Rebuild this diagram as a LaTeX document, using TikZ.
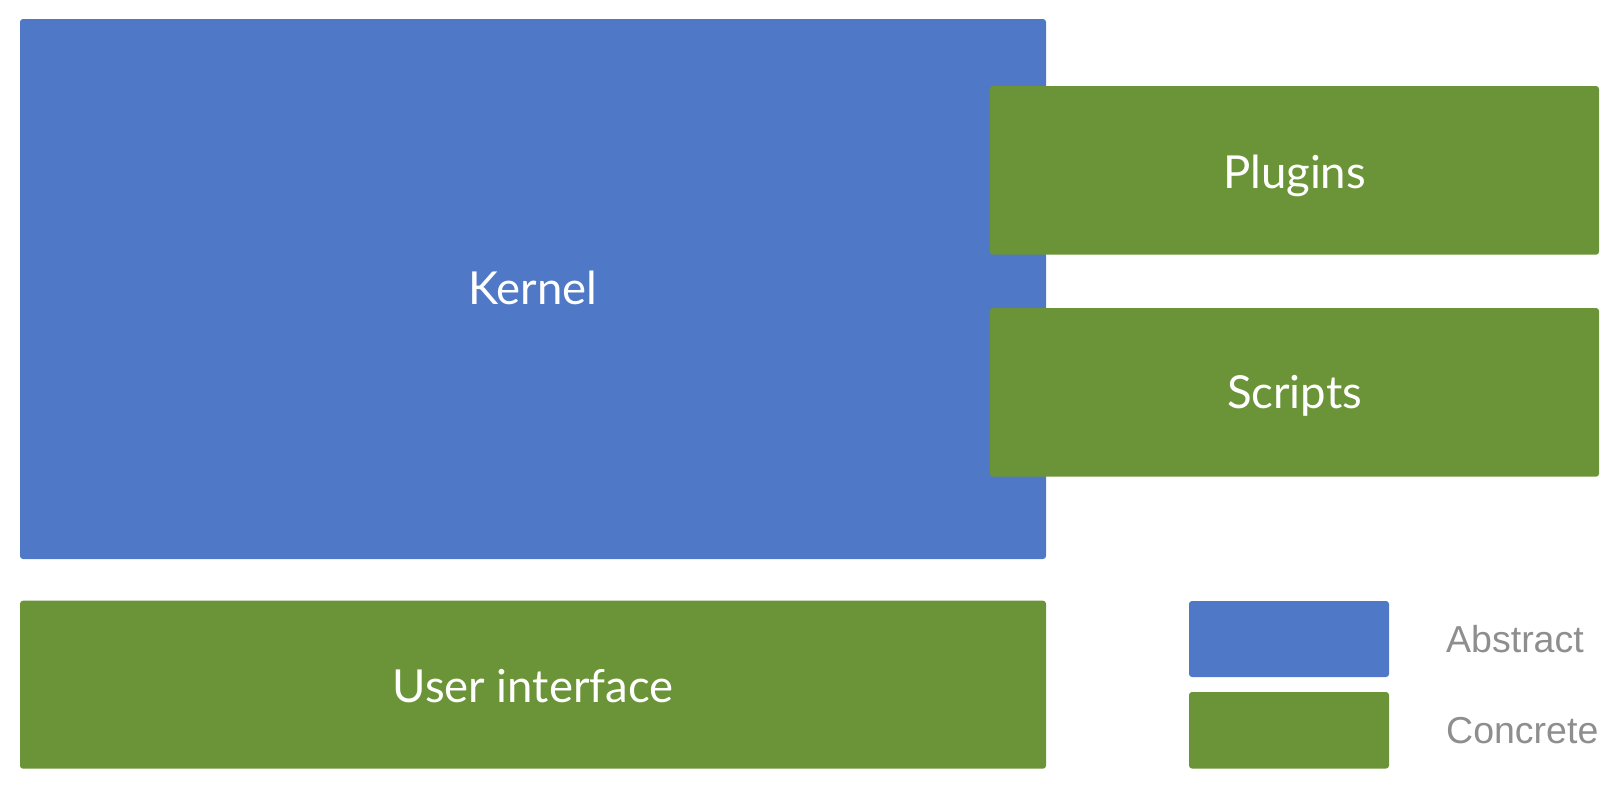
\documentclass[tikz,border=0pt]{standalone}
\usepackage{fontspec}
\setmainfont{Lato}
\newfontfamily\legendfont{Liberation Sans}
\definecolor{absblue}{RGB}{79,120,198}
\definecolor{congreen}{RGB}{107,148,56}
\definecolor{leggray}{RGB}{142,142,142}
\begin{document}
\begin{tikzpicture}[x=1pt,y=-1pt,
  blockbox/.style={fill=#1, draw=none, rounded corners=3pt},
  boxlabel/.style={text=white, font=\fontsize{45.5}{52}\selectfont, anchor=base, inner sep=0pt},
  leglabel/.style={text=leggray, font=\legendfont\fontsize{37.5}{44}\selectfont, anchor=base west, inner sep=0pt}]
\useasboundingbox (0,0) rectangle (1619,790);
% blocks
\fill[blockbox=absblue] (20,19) rectangle (1046,559);
\coordinate (kernel) at (533,304);
\fill[blockbox=congreen] (990,86) rectangle (1599,254.7);
\coordinate (plugins) at (1294.5,188);
\fill[blockbox=congreen] (990,308) rectangle (1599,476.7);
\coordinate (scripts) at (1294.5,408);
\fill[blockbox=congreen] (20,600.7) rectangle (1046,768.7);
\coordinate (ui) at (533,702);
% legend
\fill[blockbox=absblue] (1189,601) rectangle (1389,677);
\fill[blockbox=congreen] (1189,692) rectangle (1389,768.5);
% labels
\node[boxlabel] (kernelt) at (kernel) {Kernel};
\node[boxlabel] (pluginst) at (plugins) {Plugins};
\node[boxlabel] (scriptst) at (scripts) {Scripts};
\node[boxlabel] (uit) at (ui) {User interface};
\node[leglabel] (abst) at (1446,652) {Abstract};
\node[leglabel] (cont) at (1446,743) {Concrete};
\end{tikzpicture}
\end{document}
